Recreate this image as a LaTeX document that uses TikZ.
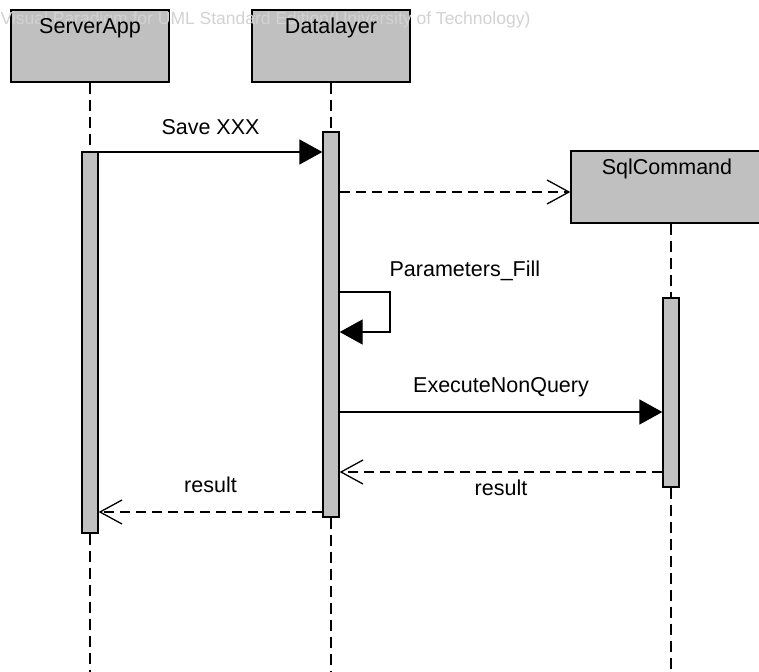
\documentclass[tikz,border=0pt]{standalone}
\usepackage{fontspec}
\setmainfont{Liberation Sans}
\usetikzlibrary{arrows.meta,positioning}
\definecolor{boxgray}{RGB}{192,192,192}
\definecolor{markgray}{RGB}{210,210,210}

\begin{document}
\begin{tikzpicture}[x=1pt,y=-1pt,line width=1.3pt,
	objbox/.style={draw,fill=boxgray,minimum width=158pt,minimum height=72pt,inner sep=0pt},
	objname/.style={anchor=north,inner sep=0pt,yshift=-8pt,font=\fontsize{21.5}{26}\selectfont},
	actbar/.style={draw,fill=boxgray,minimum width=16pt,inner sep=0pt},
	lifeline/.style={dash pattern=on 11pt off 6pt},
	msgcall/.style={-{Triangle[length=23pt,width=25pt]}},
	msgreply/.style={dash pattern=on 10pt off 6pt,-{Straight Barb[length=22pt,width=24pt]}},
	msgtext/.style={anchor=base,inner sep=0pt,font=\fontsize{21.5}{26}\selectfont}]

\clip (0,0) rectangle (759,671);

\coordinate (bottom) at (0,675);

% objects and activations
\node[objbox] (server) at (90,46) {};
\node[objbox] (data) at (331,46) {};
\node[objbox,minimum width=200pt] (sql) at (671,187) {};

\node[actbar,minimum height=381pt] (serverbar) at (90,342.5) {};
\node[actbar,minimum height=385pt] (databar) at (331,324.5) {};
\node[actbar,minimum height=189pt] (sqlbar) at (671,392.5) {};

\draw[lifeline] (server.south) -- (serverbar.north);
\draw[lifeline] (serverbar.south) -- (server.south |- bottom);
\draw[lifeline] (data.south) -- (databar.north);
\draw[lifeline] (databar.south) -- (data.south |- bottom);
\draw[lifeline] (sql.south) -- (sqlbar.north);
\draw[lifeline] (sqlbar.south) -- (sqlbar.south |- bottom);

\node[anchor=base west,inner sep=0pt,text=markgray,font=\fontsize{17.5}{21}\selectfont] (mark) at (0,25) {Visual Paradigm for UML Standard Edition(University of Technology)};

\node[objname] (servername) at (server.north) {ServerApp};
\node[objname] (dataname) at (data.north) {Datalayer};
\node[objname] (sqlname) at ([xshift=-4pt]sql.north) {SqlCommand};


% messages
\coordinate (save) at (0,152);
\coordinate (create) at (0,192);
\coordinate (selftop) at (0,292);
\coordinate (selfbot) at (390,332);
\coordinate (exec) at (0,412);
\coordinate (sqlret) at (0,472);
\coordinate (dataret) at (0,512);

\draw[msgcall] (serverbar.east |- save) -- (databar.west |- save) node[msgtext,midway,yshift=17pt] (savetext) {Save XXX};

\draw[msgreply] (databar.east |- create) -- (sql.west |- create);

\draw[msgcall] (databar.east |- selftop) -| (selfbot) -- (databar.east |- selfbot);
\node[msgtext,anchor=base west] (filltext) at (389,276) {Parameters\_Fill};

\draw[msgcall] (databar.east |- exec) -- (sqlbar.west |- exec) node[msgtext,midway,yshift=20pt] (exectext) {ExecuteNonQuery};

\draw[msgreply] (sqlbar.west |- sqlret) -- (databar.east |- sqlret) node[msgtext,midway,yshift=-23pt] (sqlrettext) {result};

\draw[msgreply] (databar.west |- dataret) -- (serverbar.east |- dataret) node[msgtext,midway,yshift=20pt] (datarettext) {result};

\end{tikzpicture}
\end{document}
